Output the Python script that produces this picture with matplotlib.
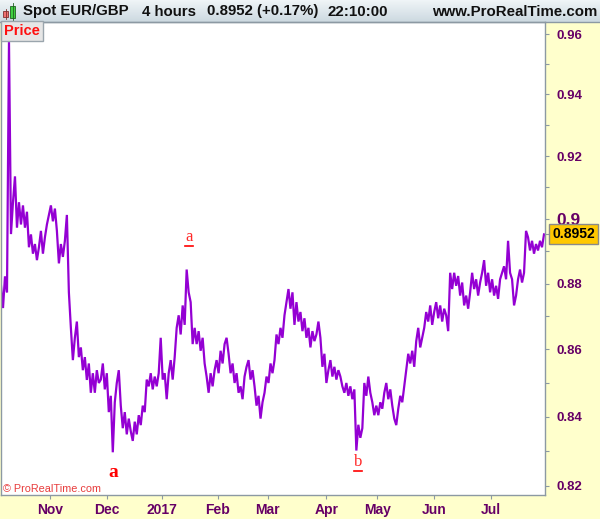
import numpy as np
import matplotlib.pyplot as plt
import matplotlib.transforms as mtransforms
from matplotlib.patches import Rectangle
from matplotlib.ticker import NullFormatter

### chart values (4h EUR/GBP, Oct 2016 - Jul 2017) ###
price = [
    0.8793, 0.8725, 0.8822, 0.8773, 0.9573, 0.8953, 0.9053, 0.9135, 0.8973, 0.9053,
    0.8983, 0.9043, 0.8973, 0.9023, 0.8912, 0.8952, 0.8892, 0.8922, 0.8872, 0.8912,
    0.8963, 0.8892, 0.8943, 0.8983, 0.9013, 0.9043, 0.8993, 0.9033, 0.8963, 0.8862,
    0.8922, 0.8882, 0.8932, 0.9013, 0.8773, 0.8665, 0.8568, 0.8635, 0.8684, 0.8577,
    0.8606, 0.8538, 0.8577, 0.8509, 0.8558, 0.8471, 0.8529, 0.8471, 0.8538, 0.8500,
    0.8510, 0.8558, 0.8481, 0.8529, 0.8414, 0.8462, 0.8297, 0.8443, 0.8500, 0.8538,
    0.8433, 0.8367, 0.8414, 0.8349, 0.8395, 0.8358, 0.8330, 0.8386, 0.8349, 0.8405,
    0.8376, 0.8433, 0.8414, 0.8510, 0.8490, 0.8529, 0.8481, 0.8519, 0.8490, 0.8529,
    0.8635, 0.8510, 0.8529, 0.8452, 0.8529, 0.8568, 0.8510, 0.8577, 0.8665, 0.8703,
    0.8645, 0.8733, 0.8674, 0.8843, 0.8773, 0.8743, 0.8616, 0.8665, 0.8616, 0.8655,
    0.8596, 0.8635, 0.8558, 0.8519, 0.8471, 0.8529, 0.8490, 0.8538, 0.8568, 0.8529,
    0.8596, 0.8558, 0.8616, 0.8635, 0.8587, 0.8529, 0.8558, 0.8500, 0.8529, 0.8471,
    0.8490, 0.8452, 0.8519, 0.8548, 0.8568, 0.8510, 0.8538, 0.8490, 0.8433, 0.8462,
    0.8395, 0.8443, 0.8471, 0.8519, 0.8500, 0.8558, 0.8529, 0.8568, 0.8645, 0.8616,
    0.8665, 0.8635, 0.8703, 0.8743, 0.8783, 0.8723, 0.8773, 0.8674, 0.8743, 0.8684,
    0.8713, 0.8655, 0.8694, 0.8635, 0.8665, 0.8606, 0.8655, 0.8625, 0.8645, 0.8684,
    0.8635, 0.8548, 0.8587, 0.8500, 0.8538, 0.8568, 0.8519, 0.8548, 0.8510, 0.8538,
    0.8519, 0.8490, 0.8471, 0.8500, 0.8462, 0.8490, 0.8452, 0.8481, 0.8302, 0.8377,
    0.8339, 0.8367, 0.8500, 0.8462, 0.8519, 0.8471, 0.8443, 0.8405, 0.8433, 0.8405,
    0.8443, 0.8424, 0.8471, 0.8500, 0.8452, 0.8481, 0.8433, 0.8395, 0.8376, 0.8424,
    0.8462, 0.8443, 0.8490, 0.8538, 0.8587, 0.8558, 0.8596, 0.8548, 0.8625, 0.8665,
    0.8606, 0.8635, 0.8665, 0.8713, 0.8684, 0.8733, 0.8674, 0.8713, 0.8743, 0.8694,
    0.8733, 0.8684, 0.8723, 0.8703, 0.8655, 0.8833, 0.8783, 0.8833, 0.8793, 0.8823,
    0.8763, 0.8803, 0.8733, 0.8763, 0.8723, 0.8773, 0.8833, 0.8783, 0.8813, 0.8763,
    0.8803, 0.8833, 0.8872, 0.8793, 0.8833, 0.8773, 0.8813, 0.8763, 0.8793, 0.8753,
    0.8813, 0.8833, 0.8853, 0.8813, 0.8932, 0.8833, 0.8813, 0.8733, 0.8763, 0.8813,
    0.8843, 0.8803, 0.8833, 0.8963, 0.8943, 0.8902, 0.8932, 0.8892, 0.8922, 0.8902,
    0.8932, 0.8912, 0.8952,
]

month_labels = ['Nov', 'Dec', '2017', 'Feb', 'Mar', 'Apr', 'May', 'Jun', 'Jul']
month_pos = [24.5, 53, 80.5, 108.5, 133.5, 163, 188.5, 217, 245.5]

y_major = [0.82, 0.84, 0.86, 0.88, 0.9, 0.92, 0.94, 0.96]
y_labels = ['0.82', '0.84', '0.86', '0.88', '0.9', '0.92', '0.94', '0.96']
y_minor = [0.83, 0.85, 0.87, 0.89, 0.91, 0.93, 0.95]

last_price = 0.8952
title_parts = ['Spot EUR/GBP', '4 hours', '0.8952 (+0.17%)', '22:10:00']
title_x = [23, 142, 207, 327]

# wave labels: (text, bar index, price level, underlined)
wave_labels = [('a', 56, 0.8240, False), ('a', 94, 0.8944, True), ('b', 179, 0.8269, True)]

W, H = 600, 519
SANS = 'Liberation Sans'
SERIF = 'Liberation Serif'
LINE_COL = '#9400d3'
AXIS_TXT = '#660066'
GRID_GRAY = '#8c99a3'


def fx(px):
    return px / W


def fy(py):
    return 1 - py / H


fig = plt.figure(figsize=(W / 100, H / 100), dpi=100)
fig.patch.set_facecolor('#ffffcc')

### title bar with a soft gradient ###
bar = fig.add_axes([0, fy(22), 1, 22 / H])
grad = np.linspace(0, 1, 50).reshape(-1, 1)
top_c = np.array([0.94, 0.96, 0.97])
bot_c = np.array([0.80, 0.85, 0.88])
img = top_c[None, None, :] * (1 - grad[:, :, None]) + bot_c[None, None, :] * grad[:, :, None]
bar.imshow(img, aspect='auto', extent=[0, 1, 0, 1])
bar.set_xlim(0, 1)
bar.set_ylim(0, 1)
bar.axis('off')
fig.add_artist(plt.Line2D([0, 1], [fy(22), fy(22)], color=GRID_GRAY, lw=1))

# little candle icon
fig.add_artist(Rectangle((fx(3), fy(17)), fx(5), 6 / H, facecolor='#f07070', edgecolor='#803030', lw=0.6))
fig.add_artist(plt.Line2D([fx(5.5), fx(5.5)], [fy(19), fy(9)], color='#803030', lw=0.6))
fig.add_artist(Rectangle((fx(10), fy(18)), fx(5), 12 / H, facecolor='#40d040', edgecolor='#206020', lw=0.6))
fig.add_artist(plt.Line2D([fx(12.5), fx(12.5)], [fy(20), fy(3)], color='#206020', lw=0.6))

for part, px in zip(title_parts, title_x):
    fig.text(fx(px), fy(11.5), part, fontsize=10.8, fontweight='bold', family=SANS,
             color='#111111', va='center', ha='left')
fig.text(fx(597), fy(11.5), 'www.ProRealTime.com', fontsize=10.8, fontweight='bold',
         family=SANS, color='#111111', va='center', ha='right')

### main price panel ###
ax = fig.add_axes([fx(1), fy(495), 544 / W, (495 - 22) / H])
ax.set_facecolor('white')
x = np.arange(len(price))
ax.plot(x, price, color=LINE_COL, lw=1.6, solid_joinstyle='miter')

ax.set_yscale('log')
ax.set_ylim(0.81743, 0.96403)
ax.set_xlim(0, len(price) - 0.5)

ax.set_yticks(y_major, labels=y_labels)
ax.set_yticks(y_minor, minor=True)
ax.yaxis.set_minor_formatter(NullFormatter())
ax.yaxis.tick_right()
ax.tick_params(axis='y', which='both', direction='out', length=3, width=0.8,
               color=GRID_GRAY, pad=5, labelcolor=AXIS_TXT, labelsize=9.5)
for lbl in ax.get_yticklabels():
    lbl.set_fontweight('bold')
    lbl.set_family(SANS)
    if lbl.get_text() == '0.9':
        lbl.set_fontsize(12.5)

ax.set_xticks(month_pos, labels=month_labels)
ax.xaxis.set_minor_locator(plt.NullLocator())
ax.tick_params(axis='x', direction='out', length=3, width=0.8, color=GRID_GRAY,
               pad=3, labelcolor=AXIS_TXT, labelsize=10)
for lbl in ax.get_xticklabels():
    lbl.set_fontweight('bold')
    lbl.set_family(SANS)

for side in ['left', 'right', 'bottom', 'top']:
    ax.spines[side].set_color(GRID_GRAY)
    ax.spines[side].set_linewidth(1)

# wave labels
for txt, idx, lvl, underlined in wave_labels:
    if underlined:
        ax.text(idx, lvl, txt, color='#ff2a2a', family=SERIF, fontsize=12,
                ha='center', va='center')
        ax.plot([idx - 2, idx + 2], [lvl * 0.9969, lvl * 0.9969], color='#ff0000', lw=1.2)
    else:
        ax.text(idx, lvl, txt, color='#ff0000', family=SERIF, fontsize=14,
                fontweight='bold', ha='center', va='center')

# current price marker on the right scale
trans = mtransforms.blended_transform_factory(ax.transAxes, ax.transData)
ax.plot([1, 1.008], [last_price, last_price], color=GRID_GRAY, lw=0.8,
        transform=trans, clip_on=False)
ax.annotate('%.4f' % last_price, xy=(1, last_price), xycoords=trans,
            xytext=(20.5, 0), textcoords='offset points', ha='center', va='center',
            fontsize=10, fontweight='bold', family=SANS, color='black',
            bbox=dict(boxstyle='square,pad=0.22', facecolor='#ffc800', edgecolor='#8a8a8a', lw=1))

# "Price" tag and copyright
fig.text(fx(4), fy(31), 'Price', fontsize=10.5, fontweight='bold', family=SANS,
         color='#ff1010', va='center', ha='left',
         bbox=dict(boxstyle='square,pad=0.2', facecolor='#e6e6e6', edgecolor='#9aa5ad', lw=1))
fig.text(fx(3), fy(489), '\u00a9 ProRealTime.com', fontsize=7.8, family=SANS,
         color='#e83c3c', va='center', ha='left')

fig.savefig('out.png', dpi=100, facecolor=fig.get_facecolor())
